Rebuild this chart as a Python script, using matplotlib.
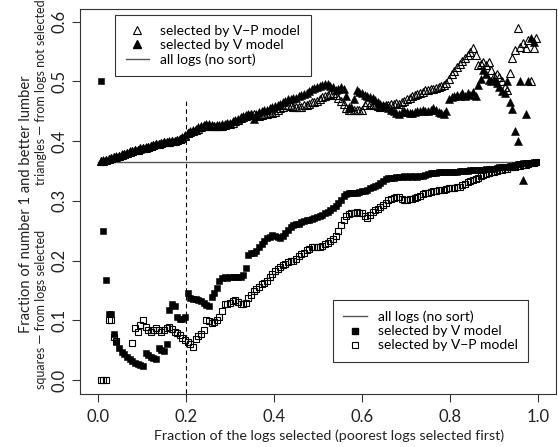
import matplotlib
matplotlib.use("Agg")
import matplotlib.pyplot as plt
from matplotlib.lines import Line2D

nan = float("nan")

# fraction of the logs selected (poorest first)
frac = [0.006, 0.012, 0.018, 0.024, 0.030, 0.036, 0.042, 0.048, 0.054, 0.060,
        0.066, 0.072, 0.078, 0.084, 0.090, 0.096, 0.102, 0.108, 0.114, 0.120,
        0.126, 0.132, 0.138, 0.144, 0.150, 0.156, 0.162, 0.168, 0.174, 0.180,
        0.186, 0.192, 0.198, 0.204, 0.210, 0.216, 0.222, 0.228, 0.234, 0.240,
        0.246, 0.252, 0.258, 0.264, 0.270, 0.276, 0.282, 0.288, 0.294, 0.300,
        0.306, 0.312, 0.318, 0.324, 0.330, 0.336, 0.342, 0.348, 0.354, 0.360,
        0.366, 0.372, 0.378, 0.384, 0.390, 0.396, 0.402, 0.408, 0.414, 0.420,
        0.426, 0.432, 0.438, 0.444, 0.450, 0.456, 0.462, 0.468, 0.474, 0.480,
        0.486, 0.492, 0.498, 0.504, 0.510, 0.516, 0.522, 0.528, 0.534, 0.540,
        0.546, 0.552, 0.558, 0.564, 0.570, 0.576, 0.582, 0.588, 0.594, 0.600,
        0.606, 0.612, 0.618, 0.624, 0.630, 0.636, 0.642, 0.648, 0.654, 0.660,
        0.666, 0.672, 0.678, 0.684, 0.690, 0.696, 0.702, 0.708, 0.714, 0.720,
        0.726, 0.732, 0.738, 0.744, 0.750, 0.756, 0.762, 0.768, 0.774, 0.780,
        0.786, 0.792, 0.798, 0.804, 0.810, 0.816, 0.822, 0.828, 0.834, 0.840,
        0.846, 0.852, 0.858, 0.864, 0.870, 0.876, 0.882, 0.888, 0.894, 0.900,
        0.906, 0.912, 0.918, 0.924, 0.930, 0.936, 0.942, 0.948, 0.954, 0.960,
        0.966, 0.972, 0.978, 0.984, 0.990, 0.996]

# squares: fraction of No.1 & better lumber in the logs selected
sel_v = [0.500, 0.250, 0.167, 0.111, 0.111, 0.077, 0.063, 0.054, 0.047, 0.043,
         0.039, 0.035, 0.031, 0.029, 0.027, 0.025, 0.023, 0.045, 0.042, 0.039,
         0.037, 0.035, 0.053, 0.050, 0.049, 0.060, 0.117, 0.128, 0.124, 0.106,
         0.102, 0.102, 0.105, 0.146, 0.138, 0.136, 0.135, 0.134, 0.132, 0.129,
         0.125, 0.124, 0.139, 0.146, 0.154, 0.165, 0.170, 0.172, 0.171, 0.172,
         0.173, 0.172, 0.173, 0.172, 0.176, 0.187, 0.210, 0.212, 0.213, 0.216,
         0.222, 0.227, 0.232, 0.237, 0.240, 0.243, 0.241, 0.239, 0.238, 0.242,
         0.247, 0.252, 0.256, 0.260, 0.261, 0.262, 0.264, 0.266, 0.268, 0.268,
         0.270, 0.272, 0.273, 0.275, 0.277, 0.279, 0.281, 0.284, 0.288, 0.292,
         0.297, 0.302, 0.308, 0.312, 0.313, 0.313, 0.313, 0.313, 0.315, 0.316,
         0.317, 0.319, 0.321, 0.323, 0.325, 0.327, 0.330, 0.334, 0.337, 0.338,
         0.339, 0.339, 0.340, 0.340, 0.340, 0.341, 0.340, 0.341, 0.340, 0.341,
         0.340, 0.341, 0.342, 0.343, 0.345, 0.346, 0.347, 0.347, 0.348, 0.348,
         0.349, 0.349, 0.349, 0.349, 0.349, 0.349, 0.350, 0.350, 0.350, 0.350,
         0.351, 0.352, 0.352, 0.352, 0.352, 0.352, 0.353, 0.353, 0.354, 0.354,
         0.355, 0.356, 0.356, 0.357, 0.357, 0.358, 0.359, 0.360, 0.361, 0.362,
         0.363, 0.363, 0.364, 0.364, 0.365, 0.365]

sel_vp = [0.000, 0.000, 0.000, 0.100, 0.100, 0.072, 0.065, nan, nan, nan,
          nan, nan, 0.062, 0.087, 0.080, 0.092, 0.100, 0.089, 0.084, 0.080,
          0.084, 0.087, 0.084, 0.080, 0.084, 0.087, 0.089, 0.085, 0.081, 0.079,
          0.075, 0.071, 0.067, 0.063, 0.060, 0.056, 0.068, 0.073, 0.077, 0.084,
          0.100, 0.098, 0.096, 0.097, 0.100, 0.106, 0.115, 0.128, 0.127, 0.129,
          0.133, 0.134, 0.130, 0.128, 0.128, 0.129, 0.137, 0.142, 0.149, 0.153,
          0.156, 0.160, 0.163, 0.166, 0.172, 0.178, 0.182, 0.186, 0.190, 0.193,
          0.195, 0.197, 0.199, 0.200, 0.203, 0.207, 0.211, 0.213, 0.217, 0.220,
          0.222, 0.222, 0.223, 0.223, 0.225, 0.228, 0.230, 0.232, 0.236, 0.241,
          0.249, 0.259, 0.268, 0.275, 0.278, 0.280, 0.280, 0.281, 0.280, 0.280,
          0.275, 0.271, 0.276, 0.281, 0.284, 0.287, 0.290, 0.293, 0.297, 0.301,
          0.304, 0.305, 0.306, 0.306, 0.304, 0.302, 0.302, 0.303, 0.304, 0.305,
          0.306, 0.309, 0.312, 0.313, 0.314, 0.315, 0.316, 0.317, 0.318, 0.318,
          0.319, 0.320, 0.321, 0.321, 0.322, 0.323, 0.324, 0.326, 0.328, 0.331,
          0.333, 0.335, 0.337, 0.339, 0.341, 0.343, 0.345, 0.347, 0.348, 0.349,
          0.350, 0.351, 0.352, 0.353, 0.354, 0.356, 0.357, 0.357, 0.358, 0.359,
          0.360, 0.360, 0.361, 0.363, 0.364, 0.365]

# triangles: fraction of No.1 & better lumber in the logs NOT selected
rest_v = [0.367, 0.368, 0.369, 0.371, 0.372, 0.373, 0.375, 0.376, 0.378, 0.379,
          0.381, 0.383, 0.384, 0.385, 0.386, 0.387, 0.388, 0.390, 0.391, 0.392,
          0.393, 0.395, 0.396, 0.397, 0.398, 0.399, 0.400, 0.401, 0.401, 0.402,
          0.404, 0.407, 0.411, 0.414, 0.417, 0.419, 0.421, 0.423, 0.425, 0.427,
          0.428, 0.428, 0.427, 0.426, 0.427, 0.427, 0.428, 0.429, 0.430, 0.431,
          0.433, 0.435, 0.438, 0.441, 0.443, 0.444, 0.445, 0.444, 0.438, 0.446,
          0.449, 0.451, 0.453, 0.452, 0.455, 0.457, 0.459, 0.461, 0.463, 0.466,
          0.468, 0.470, 0.471, 0.472, 0.473, 0.475, 0.477, 0.479, 0.481, 0.484,
          0.487, 0.489, 0.491, 0.493, 0.494, 0.496, 0.495, 0.493, 0.490, 0.486,
          0.487, 0.490, 0.488, 0.476, 0.458, 0.458, 0.470, 0.486, 0.483, 0.480,
          0.478, 0.476, 0.474, 0.472, 0.469, 0.466, 0.463, 0.461, 0.459, 0.456,
          0.453, 0.450, 0.448, 0.446, 0.449, 0.450, 0.449, 0.448, 0.447, 0.449,
          0.450, 0.451, 0.452, 0.451, 0.450, 0.452, 0.455, 0.452, 0.449, 0.447,
          0.446, 0.450, 0.470, 0.474, 0.476, 0.478, 0.476, 0.480, 0.476, 0.481,
          0.478, 0.482, 0.475, 0.494, 0.505, 0.520, 0.512, 0.503, 0.500, 0.505,
          0.498, 0.490, 0.484, 0.480, 0.500, 0.466, 0.454, 0.417, 0.400, 0.500,
          0.335, 0.446, 0.500, 0.573, 0.566, nan]

rest_vp = [0.366, 0.367, 0.369, 0.370, 0.372, 0.373, 0.374, 0.376, 0.377, 0.379,
           0.380, 0.382, 0.383, 0.385, 0.386, 0.388, 0.389, 0.389, 0.391, 0.392,
           0.394, 0.395, 0.396, 0.397, 0.398, 0.399, 0.399, 0.400, 0.401, 0.402,
           0.403, 0.405, 0.409, 0.413, 0.415, 0.417, 0.419, 0.421, 0.424, 0.426,
           0.427, 0.426, 0.425, 0.425, 0.426, 0.425, 0.426, 0.427, 0.428, 0.429,
           0.431, 0.433, 0.436, 0.439, 0.440, 0.442, 0.444, 0.446, 0.445, 0.444,
           0.443, 0.444, 0.445, 0.446, 0.447, 0.448, 0.449, 0.452, 0.455, 0.458,
           0.460, 0.460, 0.459, 0.458, 0.457, 0.457, 0.458, 0.460, 0.461, 0.463,
           0.465, 0.466, 0.468, 0.471, 0.474, 0.476, 0.477, 0.479, 0.480, 0.478,
           0.473, 0.468, 0.462, 0.456, 0.453, 0.452, 0.452, 0.452, 0.452, 0.453,
           0.460, 0.466, 0.463, 0.461, 0.460, 0.459, 0.458, 0.459, 0.460, 0.461,
           0.462, 0.463, 0.464, 0.462, 0.465, 0.468, 0.470, 0.472, 0.475, 0.477,
           0.479, 0.481, 0.483, 0.485, 0.486, 0.487, 0.488, 0.489, 0.490, 0.492,
           0.494, 0.498, 0.505, 0.512, 0.518, 0.524, 0.530, 0.535, 0.540, 0.545,
           0.550, 0.556, 0.545, 0.528, 0.530, 0.533, 0.527, 0.533, 0.520, 0.510,
           0.512, 0.507, 0.500, 0.490, 0.485, 0.514, 0.540, 0.553, 0.590, 0.558,
           0.565, 0.556, 0.570, 0.500, 0.556, 0.573]

# all logs, no sorting
all_logs_x = [0.0, 1.0]
all_logs_rate = 0.365
cut_frac = 0.2
cut_top = 0.47

plt.rcParams["font.family"] = ["Lato", "DejaVu Sans"]

fig = plt.figure(figsize=(5.58, 4.47), dpi=100)
ax = fig.add_axes([0.1441, 0.1179, 0.8516, 0.8627])

TRI = 5.6
SQ = 3.8

ax.plot(all_logs_x, [all_logs_rate, all_logs_rate], color="#555555", lw=1.0)
ax.plot([cut_frac, cut_frac], [-0.1, cut_top], color="black", lw=0.8,
        linestyle=(0, (4, 3)))

ax.plot(frac, rest_v, ls="none", marker="^", ms=TRI, mfc="black", mec="black", mew=0.4)
ax.plot(frac, rest_vp, ls="none", marker="^", ms=TRI, mfc="none", mec="black", mew=0.8)
ax.plot(frac, sel_v, ls="none", marker="s", ms=SQ, mfc="black", mec="black", mew=0.4)
ax.plot(frac, sel_vp, ls="none", marker="s", ms=SQ, mfc="none", mec="black", mew=0.8)

ax.set_xlim(-0.04, 1.04)
ax.set_ylim(-0.024, 0.622)
ax.set_xticks([0.0, 0.2, 0.4, 0.6, 0.8, 1.0])
ax.set_xticklabels(["0.0", "0.2", "0.4", "0.6", "0.8", "1.0"])
ax.set_yticks([0.0, 0.1, 0.2, 0.3, 0.4, 0.5, 0.6])
ax.set_yticklabels(["0.0", "0.1", "0.2", "0.3", "0.4", "0.5", "0.6"],
                   rotation=90, va="center")
ax.tick_params(axis="both", length=5.5, width=0.8, color="#333333",
               labelsize=12, labelcolor="#222222")
ax.tick_params(axis="x", pad=5)
ax.tick_params(axis="y", pad=4)
for sp in ax.spines.values():
    sp.set_linewidth(0.8)
    sp.set_color("#333333")

fig.text(0.59, 0.016, "Fraction of the logs selected (poorest logs selected first)",
         ha="center", va="baseline", fontsize=10.3, color="#222222")
fig.text(0.047, 0.5425, "Fraction of number 1 and better lumber",
         rotation=90, ha="center", va="center", fontsize=10.6, color="#222222")
fig.text(0.0735, 0.793, "triangles \u2014 from logs not selected",
         rotation=90, ha="center", va="center", fontsize=9.0, color="#222222")
fig.text(0.0735, 0.3076, "squares \u2014 from logs selected",
         rotation=90, ha="center", va="center", fontsize=9.0, color="#222222")

leg_kw = dict(fontsize=10, frameon=True, fancybox=False, framealpha=1,
              edgecolor="#333333", handlelength=1.7, handletextpad=0.8,
              labelspacing=0.15, borderpad=0.75)

up_handles = [
    Line2D([], [], ls="none", marker="^", ms=TRI, mfc="none", mec="black", mew=0.8),
    Line2D([], [], ls="none", marker="^", ms=TRI, mfc="black", mec="black"),
    Line2D([], [], color="#555555", lw=1.0),
]
up_labels = ["selected by V\u2212P model", "selected by V model", "all logs (no sort)"]
leg1 = ax.legend(up_handles, up_labels, loc="upper left",
                 bbox_to_anchor=(0.073, 0.984), borderaxespad=0, **leg_kw)
leg1.get_frame().set_linewidth(0.8)
ax.add_artist(leg1)

low_handles = [
    Line2D([], [], color="#555555", lw=1.0),
    Line2D([], [], ls="none", marker="s", ms=SQ, mfc="black", mec="black"),
    Line2D([], [], ls="none", marker="s", ms=SQ, mfc="none", mec="black", mew=0.8),
]
low_labels = ["all logs (no sort)", "selected by V model", "selected by V\u2212P model"]
leg2 = ax.legend(low_handles, low_labels, loc="lower right",
                 bbox_to_anchor=(0.942, 0.084), borderaxespad=0, **leg_kw)
leg2.get_frame().set_linewidth(0.8)

fig.savefig("out.png", dpi=100)
